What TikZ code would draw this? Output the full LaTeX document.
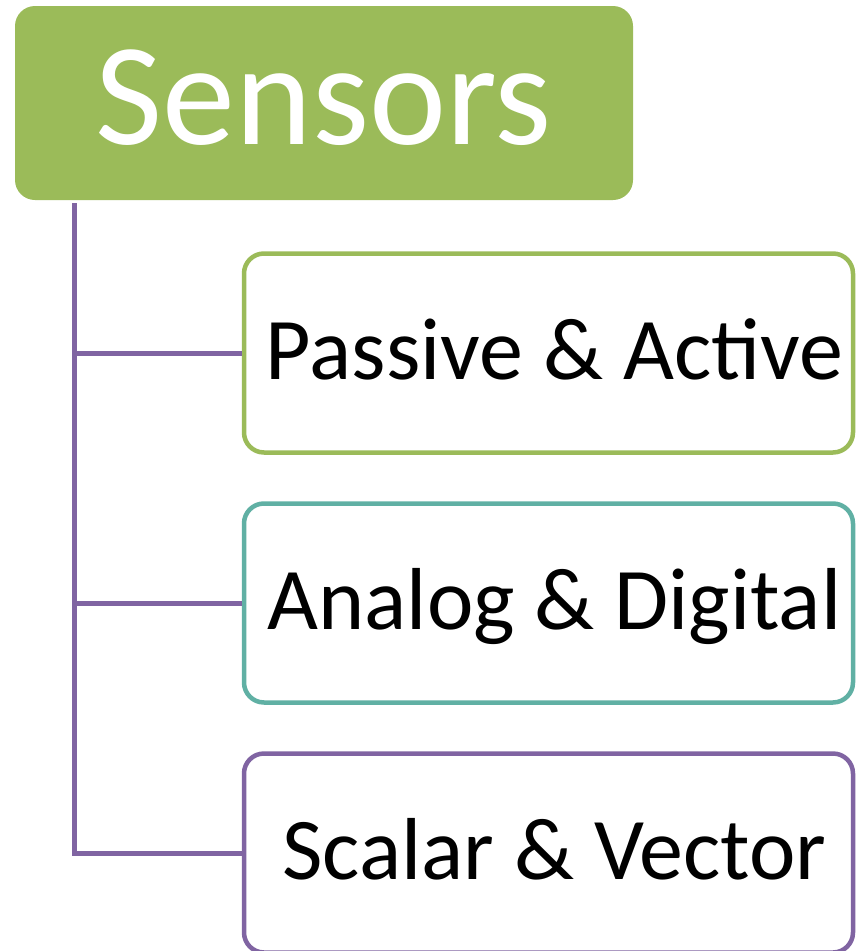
\documentclass[tikz,border=0pt]{standalone}
\usepackage{fontspec}
\setmainfont{Carlito}
\definecolor{leafgreen}{HTML}{9BBB59}
\definecolor{seateal}{HTML}{60B0A4}
\definecolor{lavender}{HTML}{8064A2}
\newcommand{\leaftext}[1]{\hspace*{12pt}#1}
\tikzset{
  rootbox/.style={fill=leafgreen, draw=none, rounded corners=20pt,
    minimum width=618pt, minimum height=194pt, inner sep=0pt,
    text=white, font=\fontsize{146}{150}\selectfont,
    text height=98pt, text depth=16pt},
  leafbox/.style={draw=#1, line width=4.5pt, fill=white, rounded corners=20pt,
    minimum width=609pt, minimum height=199pt, inner sep=0pt,
    text=black, font=\fontsize{88}{90}\selectfont,
    text height=62pt, text depth=10pt},
  branch/.style={draw=lavender, line width=5pt}
}
\begin{document}
\begin{tikzpicture}[x=1pt, y=-1pt]
  \useasboundingbox (0,0) rectangle (855,951);
  % root category
  \node[rootbox] (root) at (324,103) {Sensors};
  % three sub-categories
  \node[leafbox=leafgreen] (c1) at (548.5,353) {\leaftext{Passive \& Active}};
  \node[leafbox=seateal]   (c2) at (548.5,603) {\leaftext{Analog \& Digital}};
  \node[leafbox=lavender]  (c3) at (548.5,853) {\leaftext{Scalar \& Vector}};
  % tree connectors
  \coordinate (trunk) at (74,203);
  \draw[branch] (trunk) |- (c3.west);
  \draw[branch] (trunk |- c1.west) -- (c1.west);
  \draw[branch] (trunk |- c2.west) -- (c2.west);
\end{tikzpicture}
\end{document}
